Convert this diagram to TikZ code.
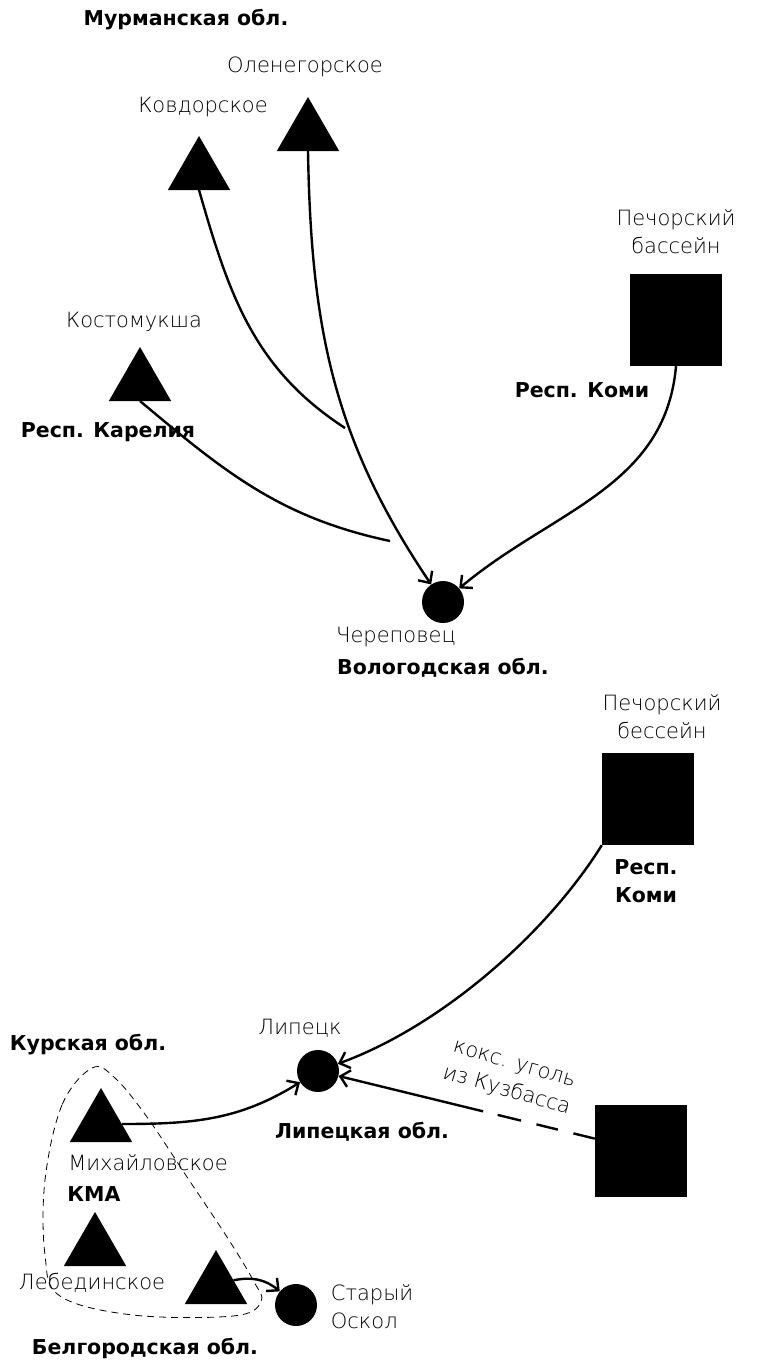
\documentclass[tikz,border=0pt]{standalone}
\usepackage{fontspec}
\setmainfont{DejaVu Sans}
\newfontfamily\thinfont{DejaVu Sans ExtraLight}
\usetikzlibrary{positioning,shapes.geometric,arrows.meta}

\tikzset{
  mine/.style={regular polygon,regular polygon sides=3,fill=black,minimum size=72pt,inner sep=0pt,outer sep=0pt},
  basin/.style={rectangle,fill=black,minimum size=92pt,inner sep=0pt},
  plant/.style={circle,fill=black,minimum size=42pt,inner sep=0pt},
  sitetext/.style={font=\thinfont\fontsize{21}{28}\selectfont,align=center,inner sep=0pt},
  areatext/.style={font=\fontsize{20.5}{28}\selectfont\bfseries,align=center,inner sep=0pt},
  supply/.style={line width=2.4pt,-{Straight Barb[length=9pt,width=17pt,line width=2.4pt]}},
  feed/.style={line width=2.4pt}
}

\begin{document}
\begin{tikzpicture}[x=1pt,y=-1pt]
        \useasboundingbox (0,0) rectangle (756,1366);

        % north: Cherepovets
        \node[mine] (ole) at (308,133) {};
        \node[mine] (kov) at (199,172) {};
        \node[mine] (kos) at (140,383) {};
        \node[basin] (komi) at (676,320) {};
        \node[plant] (cher) at (443,602) {};
        \coordinate (j1) at (345,428);
        \coordinate (j2) at (390,541);

        \node[areatext] (murm) at (186,20) {Мурманская обл.};
        \node[sitetext] (olet) at (305,67) {Оленегорское};
        \node[sitetext] (kovt) at (203,107) {Ковдорское};
        \node[sitetext] (kost) at (134,322) {Костомукша};
        \node[sitetext] (komit) at (676,232) {Печорский\\бассейн};
        \node[areatext] (komir) at (582,390) {Респ. Коми};
        \node[areatext] (kar) at (108,432) {Респ. Карелия};
        \node[sitetext] (chert) at (396,637) {Череповец};
        \node[areatext] (volog) at (443,668) {Вологодская обл.};

        \draw[supply] (ole.south) to[out=-89,in=124] (cher);
        \draw[feed] (kov.south) to[out=-74,in=147] (j1);
        \draw[feed] (kos.south) to[out=-40,in=168] (j2);
        \draw[supply] (komi.south) to[out=-95,in=40] (cher);

        % south: Lipetsk
        \node[basin] (pech) at (648,799) {};
        \node[basin] (kuz) at (641,1151) {};
        \node[plant] (lip) at (318,1071) {};
        \node[mine] (mik) at (101,1124) {};
        \node[mine] (leb) at (95,1248) {};
        \node[mine] (gub) at (216,1286) {};
        \node[plant] (osk) at (296,1305) {};

        \node[sitetext] (pecht) at (662,717) {Печорский\\бессейн};
        \node[areatext] (pechr) at (646,881) {Респ.\\Коми};
        \node[sitetext] (lipt) at (300,1028) {Липецк};
        \node[areatext] (lipr) at (362,1132) {Липецкая обл.};
        \node[areatext] (kursk) at (88,1045) {Курская обл.};
        \node[sitetext] (mikt) at (148,1163) {Михайловское};
        \node[areatext] (kma) at (94,1194) {КМА};
        \node[sitetext] (lebt) at (92,1283) {Лебединское};
        \node[sitetext,align=left] (oskt) at (372,1307) {Старый\\Оскол};
        \node[areatext] (belg) at (145,1348) {Белгородская обл.};
        \node[sitetext,rotate=-16] (coal) at (510,1079) {кокс. уголь\\из Кузбасса};

        \draw[supply] (pech.south west) to[out=-122,in=20,looseness=0.8] (lip);
        \draw[supply,dash pattern=on 22pt off 16pt on 22pt off 16pt on 24pt off 15pt on 400pt] (kuz.165) -- (lip);
        \draw[supply] (mik.east) to[out=0,in=-148] (lip);
        \draw[supply] (gub.18) to[out=12,in=140] (osk);

        % KMA outline
        \draw[line width=0.8pt,dash pattern=on 7pt off 5pt] plot[smooth cycle,tension=0.6] coordinates {
          (92,1068) (62,1105) (45,1180) (45,1255) (60,1296) (133,1315) (233,1316) (261,1302)
          (253,1280) (227,1237) (187,1177) (147,1117) (115,1078)};
\end{tikzpicture}
\end{document}
